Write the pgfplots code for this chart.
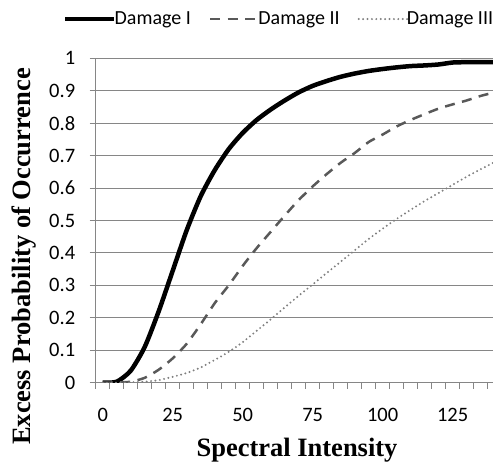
\documentclass[border=0pt]{standalone}
\usepackage{pgfplots}
\pgfplotsset{compat=1.18}
\usepackage{fontspec}
\setmainfont{Carlito}
\newfontfamily\titlefont{Liberation Serif}

\definecolor{gridgray}{RGB}{134,134,134}
\definecolor{dashgray}{RGB}{89,89,89}
\definecolor{dotgray}{RGB}{128,128,128}

% Exceedance probabilities for the three damage states
\pgfplotstableread{
si   d1     d2     d3
0    0.000  0.000  0.000
5    0.003  0.001  0.000
10   0.037  0.003  0.001
15   0.110  0.015  0.003
20   0.220  0.040  0.008
25   0.345  0.075  0.018
30   0.470  0.120  0.030
35   0.575  0.180  0.047
40   0.655  0.245  0.070
45   0.720  0.300  0.095
50   0.770  0.360  0.125
55   0.810  0.415  0.160
60   0.842  0.465  0.195
65   0.870  0.515  0.232
70   0.895  0.563  0.268
75   0.915  0.605  0.303
80   0.930  0.643  0.338
85   0.943  0.678  0.373
90   0.953  0.708  0.408
95   0.961  0.742  0.443
100  0.967  0.765  0.475
105  0.972  0.790  0.505
110  0.976  0.810  0.533
115  0.978  0.828  0.560
120  0.981  0.845  0.585
125  0.987  0.858  0.610
130  0.988  0.870  0.635
135  0.988  0.884  0.658
140  0.988  0.895  0.680
}\datatable

\begin{document}
\begin{tikzpicture}
\useasboundingbox (0,0) rectangle (493bp,465bp);
\begin{axis}[
  at={(95.7bp,82.3bp)}, anchor=south west,
  scale only axis,
  width=397.3bp, height=324.4bp,
  xmin=-2.5, xmax=139.4,
  ymin=0, ymax=1,
  axis lines*=left,
  axis line style={gridgray, line width=1bp, -},
  tick align=outside,
  major tick length=6bp,
  tick style={gridgray, line width=1bp},
  xtick={-2.5,2.5,...,137.5},
  xticklabels={},
  extra x ticks={0,25,50,75,100,125},
  extra x tick labels={0,25,50,75,100,125},
  extra x tick style={major tick length=0pt, grid=none},
  ytick={0,0.1,0.2,0.3,0.4,0.5,0.6,0.7,0.8,0.9,1},
  yticklabels={0,0.1,0.2,0.3,0.4,0.5,0.6,0.7,0.8,0.9,1},
  ymajorgrids,
  grid style={gridgray, line width=1bp},
  tick label style={font=\fontsize{20.5bp}{24bp}\selectfont, text=black},
  xticklabel style={yshift=-22bp},
  yticklabel style={xshift=-11bp},
  xlabel={\titlefont\bfseries Spectral Intensity},
  ylabel={\titlefont\bfseries Excess Probability of Occurrence},
  label style={font=\fontsize{26.5bp}{30bp}\selectfont},
  xlabel style={at={(rel axis cs:0.5067,-0.2075)}, anchor=center},
  ylabel style={at={(rel axis cs:-0.1805,0.389)}, anchor=center},
  legend columns=3,
  legend style={at={(rel axis cs:-0.0823,1.121)}, anchor=west, draw=none,
    fill=none, inner sep=0pt,
    font=\fontsize{20bp}{24bp}\selectfont,
    /tikz/every odd column/.append style={column sep=-4bp},
    /tikz/every even column/.append style={column sep=16bp}},
  legend image code/.code={\draw[#1] (0bp,0bp) -- (49bp,0bp);},
  clip=true,
]
\addplot[black, line width=4.5bp, line join=round, smooth, tension=0.4] table[x=si, y=d1] {\datatable};
\addlegendentry{Damage I}
\addplot[dashgray, line width=2.5bp, dash pattern=on 10bp off 7.5bp, smooth, tension=0.4] table[x=si, y=d2] {\datatable};
\addlegendentry{Damage II}
\addplot[dotgray, line width=2.2bp, line cap=round, dash pattern=on 0bp off 4.4bp, smooth, tension=0.4] table[x=si, y=d3] {\datatable};
\addlegendentry{Damage III}
\end{axis}
\end{tikzpicture}
\end{document}
